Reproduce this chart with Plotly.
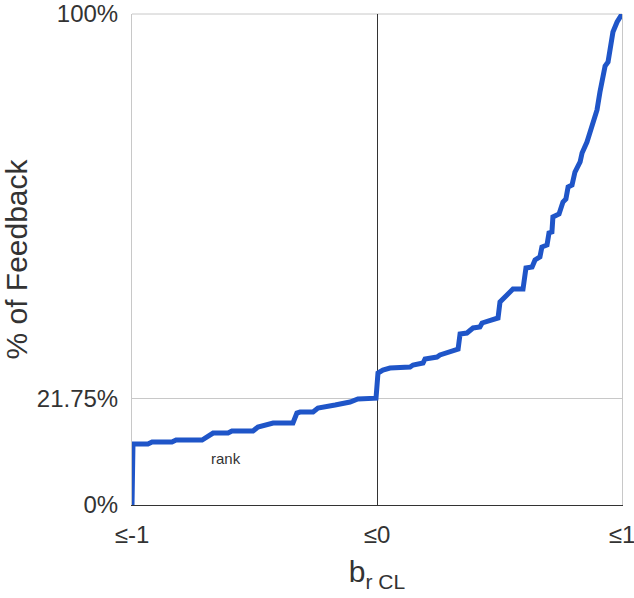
import plotly.graph_objects as go

# Cumulative share of feedback (%) vs b_r CL
b_rcl = [-1.0, -0.996, -0.935, -0.918, -0.837, -0.820, -0.714, -0.690, -0.669, -0.608,
         -0.592, -0.506, -0.486, -0.424, -0.343, -0.327, -0.314, -0.261, -0.241, -0.171,
         -0.110, -0.078, -0.004, 0.004, 0.024, 0.053, 0.135, 0.147, 0.188, 0.196,
         0.245, 0.257, 0.310, 0.331, 0.339, 0.367, 0.392, 0.420, 0.429, 0.453,
         0.494, 0.502, 0.531, 0.555, 0.596, 0.608, 0.633, 0.645, 0.665, 0.673,
         0.694, 0.702, 0.714, 0.718, 0.743, 0.759, 0.771, 0.780, 0.796, 0.808,
         0.829, 0.837, 0.857, 0.869, 0.882, 0.898, 0.910, 0.931, 0.943, 0.951,
         0.963, 0.980, 1.0]
feedback_pct = [0.0, 12.42, 12.42, 12.83, 12.83, 13.24, 13.24, 14.05, 14.66, 14.66,
                15.07, 15.07, 15.89, 16.70, 16.70, 18.74, 18.94, 18.94, 19.76, 20.37,
                20.98, 21.59, 21.75, 26.88, 27.49, 27.90, 28.11, 28.51, 28.92, 29.74,
                30.14, 30.55, 31.36, 31.77, 34.83, 35.03, 36.05, 36.25, 37.07, 37.47,
                38.09, 41.34, 42.77, 43.99, 43.99, 48.27, 48.47, 49.90, 50.51, 52.55,
                52.95, 55.40, 55.60, 58.66, 59.27, 61.71, 62.32, 64.77, 65.17, 67.82,
                69.86, 71.69, 73.93, 75.97, 78.00, 80.45, 84.11, 89.41, 90.22, 92.67,
                96.33, 98.37, 100.0]

x_tickvals = [-1, 0, 1]
x_ticktext = ["≤-1", "≤0", "≤1"]
y_tickvals = [0, 21.75, 100]
y_ticktext = ["0%", "21.75%", "100%"]

FONT = "Liberation Sans, Arial, sans-serif"
TXT = "#333333"
GRID = "#c8c8c8"

fig = go.Figure()
fig.add_trace(go.Scatter(
    x=b_rcl, y=feedback_pct, mode="lines", name="rank",
    line=dict(color="#1f55c8", width=5), cliponaxis=False, showlegend=False,
))

fig.add_annotation(x=-0.615, y=9.5, text="rank", showarrow=False,
                   font=dict(family=FONT, size=15, color=TXT))

# top border of the plot area (grey frame line)
fig.add_shape(type="line", xref="paper", yref="paper", x0=0, x1=1, y0=1, y1=1,
              line=dict(color=GRID, width=1), layer="below")

fig.update_layout(
    width=634, height=598,
    margin=dict(l=132, r=12, t=14, b=93, autoexpand=False),
    paper_bgcolor="white", plot_bgcolor="white",
    font=dict(family=FONT, color=TXT),
    xaxis=dict(
        range=[-1, 1], tickvals=x_tickvals, ticktext=x_ticktext,
        tickfont=dict(size=24, color=TXT), ticklabeloverflow="allow",
        showgrid=True, gridcolor=GRID, gridwidth=1,
        zeroline=True, zerolinecolor="#333333", zerolinewidth=1,
        showline=True, linecolor="#333333", linewidth=1, mirror=False,
        ticks="outside", ticklen=8, tickcolor="rgba(0,0,0,0)",
        title=dict(text="b<sub>r CL</sub>", font=dict(size=30, color=TXT), standoff=14),
        automargin=False, fixedrange=True,
    ),
    yaxis=dict(
        range=[0, 100], tickvals=y_tickvals, ticktext=y_ticktext,
        tickfont=dict(size=24, color=TXT), ticklabeloverflow="allow",
        showgrid=True, gridcolor=GRID, gridwidth=1,
        zeroline=False,
        showline=True, linecolor=GRID, linewidth=1, mirror=True,
        ticks="outside", ticklen=8, tickcolor="rgba(0,0,0,0)",
        title=dict(text="% of Feedback", font=dict(size=30, color=TXT), standoff=2),
        automargin=False, fixedrange=True,
    ),
)

fig.write_html("out.html")
